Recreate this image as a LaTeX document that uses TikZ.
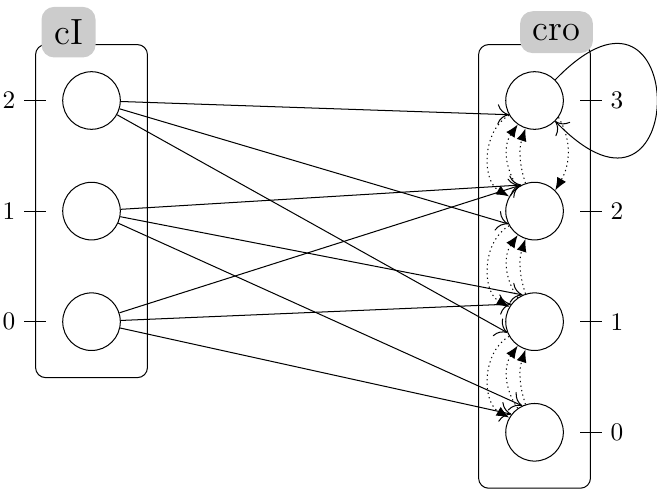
\documentclass[tikz,border=0pt]{standalone}
\usetikzlibrary{positioning, fit, arrows.meta}

\begin{document}
\begin{tikzpicture}[
            node distance=1.536cm,
            cell/.style={draw, circle, minimum size=0.8cm, inner sep=0pt},
            groupbox/.style={draw, rectangle, rounded corners=4pt, inner sep=0.37cm},
            tagbox/.style={fill=gray!40, rounded corners=5pt, inner sep=5pt, font=\Large},
            flow/.style={-{To[length=4.5pt, width=8pt]}},
            link/.style={dash pattern=on 0.5pt off 1.3pt, -{Latex[length=5pt, width=4pt]}}
            ]
            \useasboundingbox (0,0) rectangle (9.125,6.833);

            % entradas
            \node[cell] (i2) at (1.271,5.437) {};
            \node[cell, below of=i2] (i1) {};
            \node[cell, below of=i1] (i0) {};

            % saídas
            \node[cell, right of=i2, xshift=4.617cm] (o3) {};
            \node[cell, below of=o3] (o2) {};
            \node[cell, below of=o2] (o1) {};
            \node[cell, below of=o1] (o0) {};

            % caixas
            \node[groupbox, fit=(i2)(i0)] (inbox) {};
            \node[groupbox, fit=(o3)(o0)] (outbox) {};
            \node[tagbox] (intag) at ([shift={(0.465,0.165)}]inbox.north west) {cI};
            \node[tagbox] (outtag) at ([shift={(-0.479,0.165)}]outbox.north east) {cro};

            % marcas
            \foreach \k in {0,1,2}
                \draw (inbox.west |- i\k) ++(-0.15,0) node[left] (ti\k) {\k} -- ++(0.3,0);
            \foreach \k in {0,...,3}
                \draw (outbox.east |- o\k) ++(-0.15,0) -- ++(0.3,0) node[right] (to\k) {\k};

            % arestas
            \draw[flow] (i2) -- (o3.209);
            \draw[flow] (i2) -- (o2.206);
            \draw[flow] (i2) -- (o1.202);
            \draw[flow] (i1) -- (o2.117);
            \draw[flow] (i1) -- (o1.114);
            \draw[flow] (i1) -- (o0.115);
            \draw[flow] (i0) -- (o2.117);
            \draw[flow] (i0) -- (o1.143);
            \draw[flow] (i0) -- (o0.142);

            % ligações
            \foreach \k/\u in {0/1,1/2,2/3} {
                \draw[link] (o\k) to[bend left=35] (o\u);
                \draw[link] (o\k) to[bend left=18] (o\u);
                \draw[link] (o\u) to[bend right=60] (o\k);
            }
            \draw[link] (o3.-35) to[out=-60, in=60] (o2.45);
            \draw[flow] (o3.45) .. controls +(46:2.72) and +(-46:2.72) .. (o3.-45);

        \end{tikzpicture}
\end{document}
